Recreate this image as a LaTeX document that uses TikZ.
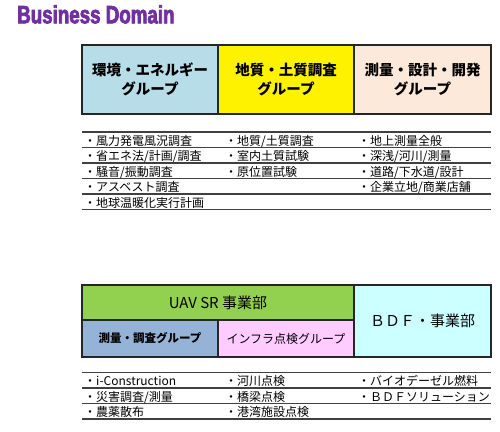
\documentclass[tikz,border=0pt]{standalone}
\usepackage{fontspec}
\setmainfont{Liberation Sans}
\newfontfamily\jp{Noto Sans CJK JP}
\newfontfamily\titlefont[FakeStretch=0.75,FakeBold=3]{Liberation Sans Bold}
\usetikzlibrary{positioning}
\definecolor{envblue}{HTML}{B7DEE8}
\definecolor{svypeach}{HTML}{FDE9D9}
\definecolor{uavgreen}{HTML}{92D050}
\definecolor{grpblue}{HTML}{95B3D7}
\definecolor{infpink}{HTML}{FFCCFF}
\definecolor{bdfcyan}{HTML}{CCFFFF}
\definecolor{titlepurple}{HTML}{7030A0}

\begin{document}
\begin{tikzpicture}[x=1pt,y=-1pt,
    box/.style={draw=black!85,line width=1.6pt,outer sep=0pt,inner sep=0pt,align=center},
    grp/.style={box,minimum height=69pt,font=\jp\bfseries\fontsize{14.5}{19}\selectfont},
    rule/.style={draw=black!75,line width=1.4pt},
    item/.style={anchor=base west,inner sep=0pt,font=\jp\fontsize{12}{13}\selectfont}]
\useasboundingbox (0,0) rectangle (500,431);

\node[anchor=north west,inner sep=0pt,text=titlepurple,font=\titlefont\fontsize{25}{25}\selectfont] (title) at (17,5) {Business Domain};

% groups
\node[grp,fill=envblue,minimum width=136pt] (env) at (150,79.5) {環境・エネルギー\\グループ};
\node[grp,fill=yellow,minimum width=136pt,right=0pt of env] (geo) {地質・土質調査\\グループ};
\node[grp,fill=svypeach,minimum width=137pt,right=0pt of geo] (svy) {測量・設計・開発\\グループ};

\foreach \y in {132,147.5,163,178.5,194,209.5}
  \draw[rule] (82,\y) -- (491,\y);

\foreach \t [count=\i] in {風力発電風況調査,省エネ法/計画/調査,騒音/振動調査,アスベスト調査,地球温暖化実行計画}
  \node[item] (env-\i) at (84,129.5+15.5*\i) {・\t};
\foreach \t [count=\i] in {地質/土質調査,室内土質試験,原位置試験}
  \node[item] (geo-\i) at (225,129.5+15.5*\i) {・\t};
\foreach \t [count=\i] in {地上測量全般,深浅/河川/測量,道路/下水道/設計,企業立地/商業店舗}
  \node[item] (svy-\i) at (358,129.5+15.5*\i) {・\t};

% divisions
\node[box,fill=uavgreen,minimum width=272pt,minimum height=35pt,font=\jp\fontsize{15}{18}\selectfont] (uav) at (218,302.5) {UAV SR 事業部};
\node[box,fill=grpblue,minimum width=136pt,minimum height=37pt,font=\jp\bfseries\fontsize{11.5}{14}\selectfont,below right=0pt and 0pt of uav.south west] (uavsvy) {測量・調査グループ};
\node[box,fill=infpink,minimum width=136pt,minimum height=37pt,font=\jp\fontsize{12}{14}\selectfont,right=0pt of uavsvy] (uavinf) {インフラ点検グループ};
\node[box,fill=bdfcyan,minimum width=137pt,minimum height=72pt,font=\jp\fontsize{15}{18}\selectfont,anchor=north west] (bdf) at (uav.north east) {ＢＤＦ・事業部};

\foreach \y in {372.5,388,403.5,419}
  \draw[rule] (82,\y) -- (491,\y);

\foreach \t [count=\i] in {i-Construction,災害調査/測量,農薬散布}
  \node[item] (uav-\i) at (84,370+15.5*\i) {・\t};
\foreach \t [count=\i] in {河川点検,橋梁点検,港湾施設点検}
  \node[item] (inf-\i) at (225,370+15.5*\i) {・\t};
\foreach \t [count=\i] in {バイオデーゼル燃料,ＢＤＦソリューション}
  \node[item] (bdf-\i) at (358,370+15.5*\i) {・\t};
\end{tikzpicture}
\end{document}
